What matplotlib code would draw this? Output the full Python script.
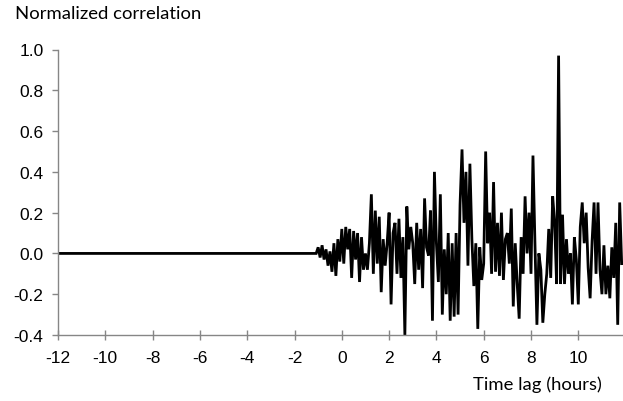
import numpy as np
import matplotlib
matplotlib.use("Agg")
import matplotlib.pyplot as plt

# time lag axis, 5-minute steps (hours)
step = 1.0 / 12
flat_start = -12.0
noise_start = -1.0

# correlation is zero before the noise starts
flat_vals = [0.0] * int(round((noise_start - flat_start) / step))

# normalized correlation, one row per hour (12 samples each)
hour_m1 = [0.03, -0.02, 0.04, -0.03, 0.02, -0.06, 0.01, -0.09, 0.05, -0.11, 0.07, -0.04]
hour_0 = [0.12, -0.05, 0.13, 0.02, 0.12, -0.12, 0.11, -0.03, 0.10, -0.14, 0.08, -0.08]
hour_1 = [0.0, -0.08, 0.05, 0.29, -0.10, 0.21, -0.05, 0.18, -0.19, 0.07, -0.06, 0.05]
hour_2 = [0.20, -0.25, 0.10, 0.15, -0.10, 0.17, -0.12, 0.08, -0.40, 0.23, 0.02, 0.13]
hour_3 = [0.05, -0.15, 0.15, -0.08, 0.12, -0.17, 0.27, 0.03, -0.01, 0.21, -0.33, 0.40]
hour_4 = [0.05, -0.14, 0.29, -0.30, 0.02, -0.20, 0.10, -0.33, 0.05, -0.31, 0.10, -0.30]
hour_5 = [0.24, 0.51, 0.15, 0.40, -0.06, 0.44, 0.07, -0.16, 0.05, -0.37, 0.03, -0.13]
hour_6 = [-0.05, 0.50, 0.05, 0.20, -0.10, 0.35, -0.09, 0.15, -0.11, 0.20, -0.13, 0.07]
hour_7 = [0.10, -0.05, 0.22, -0.26, 0.05, -0.15, -0.32, 0.08, -0.10, 0.28, 0.0, 0.20]
hour_8 = [-0.10, 0.48, 0.05, -0.35, 0.0, -0.08, -0.34, -0.20, -0.10, 0.12, -0.12, 0.28]
hour_9 = [0.15, -0.15, 0.97, -0.15, 0.19, -0.15, 0.07, -0.10, 0.0, -0.25, 0.08, -0.03]
hour_10 = [-0.25, 0.13, 0.25, 0.05, 0.20, -0.07, -0.22, 0.06, 0.25, -0.10, 0.25, -0.08]
hour_11 = [-0.20, 0.04, -0.20, -0.06, -0.22, 0.03, -0.12, 0.15, -0.35, 0.25, -0.05]

xticks = [-12, -10, -8, -6, -4, -2, 0, 2, 4, 6, 8, 10]
yticks = [-0.4, -0.2, 0.0, 0.2, 0.4, 0.6, 0.8, 1.0]

corr = np.array(flat_vals + hour_m1 + hour_0 + hour_1 + hour_2 + hour_3 + hour_4
                + hour_5 + hour_6 + hour_7 + hour_8 + hour_9 + hour_10 + hour_11)
lag = flat_start + step * np.arange(len(corr))

plt.rcParams['font.family'] = ['Liberation Sans', 'DejaVu Sans']
grey = '#868686'

fig = plt.figure(figsize=(6.23, 4.02), dpi=100)
ax = fig.add_axes([58 / 623, 66 / 402, (623 - 58) / 623, (336 - 50.5) / 402])
ax.plot(lag, corr, color='black', lw=2.0, solid_joinstyle='miter')

ax.set_xlim(-12, 11.89)
ax.set_ylim(-0.4, 1.0)
ax.set_xticks(xticks)
ax.set_xticklabels([str(t) for t in xticks])
ax.set_yticks(yticks)
ax.set_yticklabels([f"{t:.1f}" for t in yticks])

for s in ['top', 'right']:
    ax.spines[s].set_visible(False)
for s in ['left', 'bottom']:
    ax.spines[s].set_color(grey)
    ax.spines[s].set_linewidth(1.0)

ax.tick_params(axis='x', direction='inout', length=7, width=1.0, color=grey,
               labelsize=12.5, pad=7)
ax.tick_params(axis='y', direction='out', length=4.5, width=1.0, color=grey,
               labelsize=12.5, pad=6)

fig.text(15 / 623, 1 - 14 / 402, 'Normalized correlation', family=['Lato', 'DejaVu Sans'],
         fontsize=13.3, va='center', ha='left')
fig.text(602 / 623, 1 - 385 / 402, 'Time lag (hours)', family=['Lato', 'DejaVu Sans'],
         fontsize=13.3, va='center', ha='right')

fig.savefig('out.png', dpi=100)
